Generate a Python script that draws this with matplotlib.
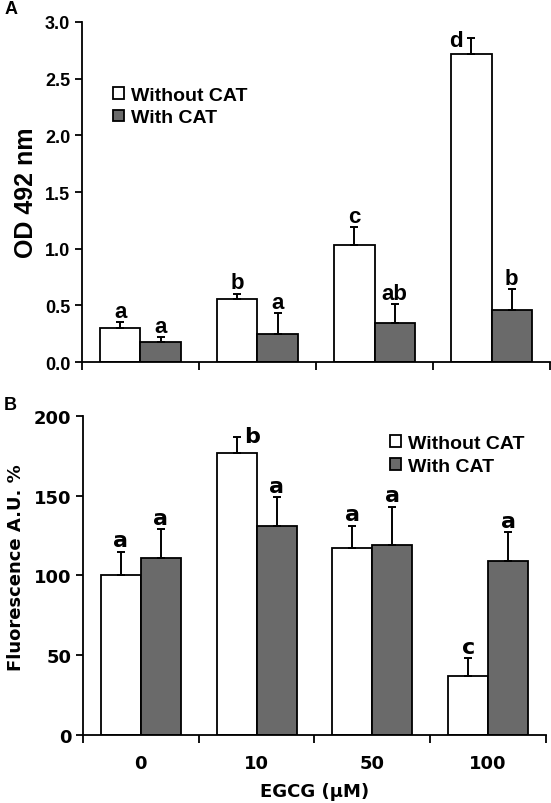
import numpy as np
import matplotlib.pyplot as plt

# data
doses = ["0", "10", "50", "100"]
series = ["Without CAT", "With CAT"]

od_without = [0.30, 0.56, 1.03, 2.72]
od_without_err = [0.05, 0.04, 0.16, 0.14]
od_with = [0.18, 0.25, 0.34, 0.46]
od_with_err = [0.04, 0.18, 0.17, 0.18]
od_letters_without = ["a", "b", "c", "d"]
od_letters_with = ["a", "a", "ab", "b"]

fl_without = [100, 177, 117, 37]
fl_without_err = [15, 10, 14, 11]
fl_with = [111, 131, 119, 109]
fl_with_err = [18, 18, 24, 18]
fl_letters_without = ["a", "b", "a", "c"]
fl_letters_with = ["a", "a", "a", "a"]

white = "white"
gray = "#6a6a6a"
arial = "Liberation Sans"
tahoma = "DejaVu Sans"

fig = plt.figure(figsize=(5.51, 8.04), dpi=100)
axA = fig.add_axes([0.1488, 0.5485, 0.8494, 0.4229])
axB = fig.add_axes([0.1506, 0.0846, 0.8403, 0.3968])

x = np.arange(len(doses))
w = 0.345


def draw(ax, v1, e1, v2, e2, l1, l2, lfont, lsize, shift1, shift2):
    ebar = dict(ecolor="black", elinewidth=1.4, capsize=3, capthick=1.4)
    ax.bar(x - w / 2, v1, w, color=white, edgecolor="black", linewidth=1.3,
           yerr=[np.zeros(len(v1)), e1], error_kw=ebar, label=series[0])
    ax.bar(x + w / 2, v2, w, color=gray, edgecolor="black", linewidth=1.3,
           yerr=[np.zeros(len(v2)), e2], error_kw=ebar, label=series[1])
    for i in range(len(x)):
        dx, dy = shift1.get(i, (0, 4))
        ax.annotate(l1[i], (x[i] - w / 2, v1[i] + e1[i]), xytext=(dx, dy),
                    textcoords="offset points", ha="center", va="baseline",
                    fontsize=lsize, fontweight="bold", family=lfont)
        dx, dy = shift2.get(i, (0, 4))
        ax.annotate(l2[i], (x[i] + w / 2, v2[i] + e2[i]), xytext=(dx, dy),
                    textcoords="offset points", ha="center", va="baseline",
                    fontsize=lsize, fontweight="bold", family=lfont)
    ax.set_xlim(-0.5, len(x) - 0.5)
    ax.spines["top"].set_visible(False)
    ax.spines["right"].set_visible(False)
    for s in ("left", "bottom"):
        ax.spines[s].set_linewidth(1.3)
    ax.set_xticks(np.arange(len(x) + 1) - 0.5)
    ax.set_xticklabels([])
    ax.tick_params(axis="both", direction="out", length=5, width=1.3)
    ax.tick_params(axis="x", length=6)


draw(axA, od_without, od_without_err, od_with, od_with_err,
     od_letters_without, od_letters_with, arial, 16,
     {3: (-11, -6)}, {})
axA.set_ylim(0, 3.0)
axA.set_yticks(np.arange(0, 3.01, 0.5))
axA.set_yticklabels([f"{t:.1f}" for t in np.arange(0, 3.01, 0.5)],
                    fontsize=13, fontweight="bold", family=arial)
axA.set_ylabel("OD 492 nm", fontsize=18, fontweight="bold", family=arial,
               labelpad=5)
axA.legend(loc="center left", bbox_to_anchor=(0.066, 0.751), frameon=False,
           prop=dict(family=arial, weight="bold", size=14),
           handlelength=0.55, handleheight=0.55, handletextpad=0.4,
           borderpad=0, borderaxespad=0, labelspacing=0.28)

draw(axB, fl_without, fl_without_err, fl_with, fl_with_err,
     fl_letters_without, fl_letters_with, tahoma, 16,
     {1: (11, -4)}, {})
axB.set_ylim(0, 200)
axB.set_yticks([0, 50, 100, 150, 200])
axB.set_yticklabels(["0", "50", "100", "150", "200"],
                    fontsize=13, fontweight="bold", family=tahoma)
axB.set_xticks(x, minor=True)
axB.set_xticklabels(doses, minor=True, fontsize=13, fontweight="bold",
                    family=tahoma)
axB.tick_params(axis="x", which="minor", length=0, pad=14)
axB.set_xlabel("EGCG (\u00b5M)", fontsize=13, fontweight="bold", family=tahoma,
               labelpad=7)
axB.set_ylabel("Fluorescence A.U. %", fontsize=13, fontweight="bold",
               family=tahoma)
axB.yaxis.set_label_coords(-0.125, 0.527)
axB.legend(loc="center left", bbox_to_anchor=(0.663, 0.878), frameon=False,
           prop=dict(family=arial, weight="bold", size=14),
           handlelength=0.55, handleheight=0.55, handletextpad=0.4,
           borderpad=0, borderaxespad=0, labelspacing=0.28)

fig.text(0.008, 0.9876, "A", fontsize=13, fontweight="bold", family=arial,
         va="center")
fig.text(0.006, 0.4956, "B", fontsize=13, fontweight="bold", family=arial,
         va="center")

fig.savefig("out.png", dpi=100)
